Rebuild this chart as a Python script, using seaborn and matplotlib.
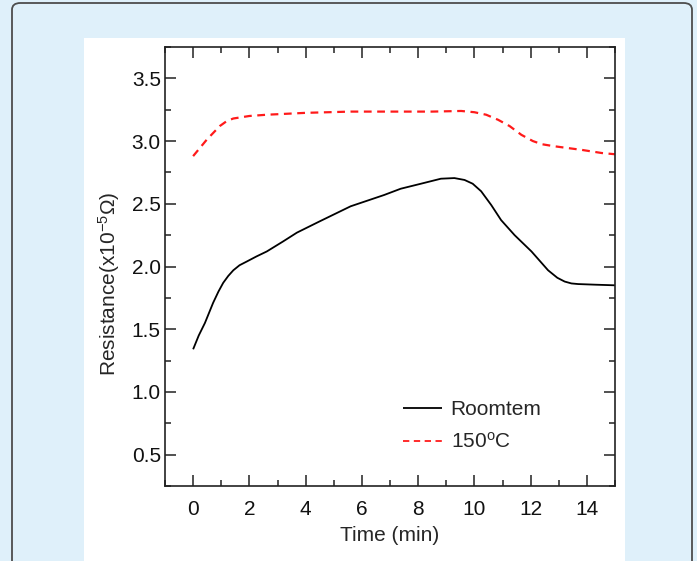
import numpy as np
import pandas as pd
import matplotlib
matplotlib.use("Agg")
import matplotlib.pyplot as plt
from matplotlib.patches import FancyBboxPatch, Rectangle
import seaborn as sns

# Resistance vs time, room temperature run
time_room = [0, 0.2, 0.42, 0.71, 0.9, 1.07, 1.25, 1.43, 1.65, 1.91, 2.25, 2.62,
             3.2, 3.69, 4.5, 5.6, 6.79, 7.38, 8.1, 8.81, 9.29, 9.65, 9.94,
             10.24, 10.6, 10.95, 11.43, 12.03, 12.62, 12.95, 13.21, 13.45,
             13.69, 14.3, 15.0]
res_room = [1.34, 1.45, 1.55, 1.71, 1.80, 1.87, 1.925, 1.97, 2.01, 2.04, 2.08, 2.12,
            2.20, 2.27, 2.36, 2.48, 2.57, 2.62, 2.66, 2.70, 2.705, 2.69, 2.66,
            2.60, 2.49, 2.37, 2.25, 2.12, 1.97, 1.91, 1.88, 1.865,
            1.86, 1.855, 1.85]

# Resistance vs time at 150 C
time_hot = [0, 0.48, 0.95, 1.2, 1.43, 2.0, 2.62, 4.0, 5.6, 7.0, 8.5, 9.53, 10.0,
            10.42, 10.84, 11.25, 11.67, 12.08, 12.4, 12.8, 13.3, 13.81, 14.52, 15.0]
res_hot = [2.88, 3.01, 3.12, 3.16, 3.18, 3.20, 3.21, 3.225, 3.235, 3.235, 3.235,
           3.24, 3.23, 3.21, 3.17, 3.12, 3.05, 3.00, 2.975, 2.96, 2.945, 2.93,
           2.905, 2.895]

series_names = ["Roomtem", "150$^{\\mathrm{o}}$C"]
x_ticks = [0, 2, 4, 6, 8, 10, 12, 14]
y_ticks = [0.5, 1.0, 1.5, 2.0, 2.5, 3.0, 3.5]

df = pd.concat([
    pd.DataFrame({"t": time_room, "r": res_room, "s": series_names[0]}),
    pd.DataFrame({"t": time_hot, "r": res_hot, "s": series_names[1]}),
], ignore_index=True)

sns.set_theme(style="ticks")
plt.rcParams["font.family"] = ["Liberation Sans", "DejaVu Sans"]
plt.rcParams["mathtext.fontset"] = "custom"
plt.rcParams["mathtext.rm"] = "Liberation Sans"
plt.rcParams["mathtext.it"] = "Liberation Sans"

W, H = 697, 561
fig = plt.figure(figsize=(W / 100, H / 100), dpi=100, facecolor="#dff0fa")

# page frame and white panel, kept behind the axes
frame = FancyBboxPatch((12 / W, -0.1), 680 / W, 1.1 - 3 / H,
                       boxstyle="round,pad=0,rounding_size=0.012",
                       transform=fig.transFigure, facecolor="#dff0fa",
                       edgecolor="#4d4d4d", linewidth=1.3, zorder=-3)
fig.patches.append(frame)
panel = Rectangle((84 / W, -0.05), 541 / W, 1.05 - 38 / H,
                  transform=fig.transFigure, facecolor="white",
                  edgecolor="none", zorder=-2)
fig.patches.append(panel)

ax = fig.add_axes([165 / W, (H - 486) / H, 450 / W, 439 / H])
ax.set_facecolor("white")

sns.lineplot(data=df, x="t", y="r", hue="s", style="s",
             palette=["black", "#ff1a1a"], dashes=[(1, 0), (3.5, 2.5)],
             linewidth=1.3, ax=ax, sort=False, estimator=None)
ax.lines[1].set_linewidth(1.6)

ax.set_xlim(-1, 15)
ax.set_ylim(0.25, 3.75)
ax.set_xticks(x_ticks)
ax.set_xticks(np.arange(-1, 16, 1), minor=True)
ax.set_yticks(y_ticks)
ax.set_yticks(np.arange(0.25, 3.76, 0.25), minor=True)
ax.set_yticklabels([f"{v:.1f}" for v in y_ticks])
ax.tick_params(which="both", direction="in", top=True, right=True,
               colors="#222222", labelcolor="#111111", width=1.1)
ax.tick_params(which="major", length=8)
ax.tick_params(which="minor", length=4)
ax.tick_params(axis="x", which="major", labelsize=15, pad=10)
ax.tick_params(axis="y", which="major", labelsize=15, pad=3)
for sp in ax.spines.values():
    sp.set_color("#222222")
    sp.set_linewidth(1.2)

ax.set_xlabel("Time (min)", fontsize=15, labelpad=5)
ax.set_ylabel("Resistance(x10$^{-5}$$\\Omega$)", fontsize=15)
ax.yaxis.set_label_coords(-0.095, 0.46)

leg = ax.legend(loc="upper left", bbox_to_anchor=(0.51, 0.214), frameon=False,
                handlelength=1.9, handletextpad=0.4, labelspacing=0.6,
                prop={"size": 15}, borderaxespad=0)

fig.savefig("out.png", dpi=100, facecolor=fig.get_facecolor())
